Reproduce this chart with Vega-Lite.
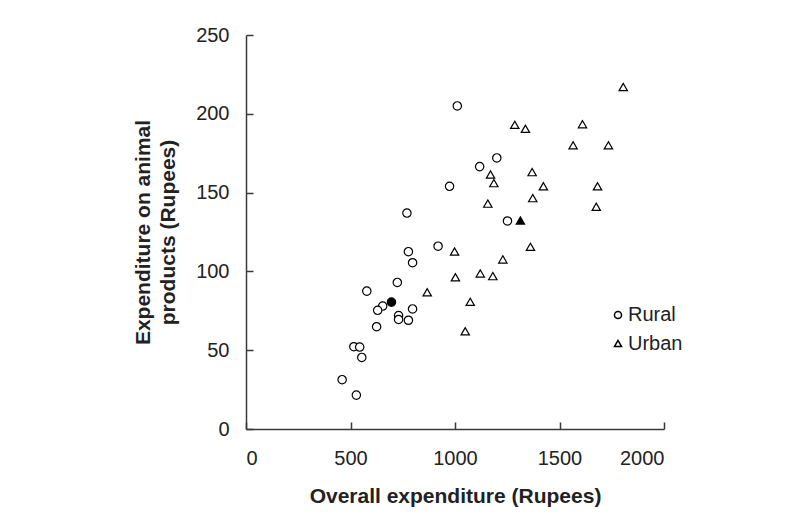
{
  "$schema": "https://vega.github.io/schema/vega-lite/v6.json",
  "autosize": {"type": "none"},
  "padding": {"left": 246, "top": 35, "right": 146, "bottom": 90},
  "width": 418,
  "height": 394,
  "background": "white",
  "config": {
    "view": {"stroke": null},
    "font": "Liberation Sans",
    "axis": {
      "grid": false,
      "domainColor": "#3a3a3a",
      "domainWidth": 1.5,
      "tickColor": "#3a3a3a",
      "tickWidth": 1.5,
      "tickSize": -7,
      "labelFont": "Liberation Sans",
      "labelFontSize": 20,
      "labelColor": "#222222",
      "titleFont": "Liberation Sans",
      "titleFontSize": 21,
      "titleFontWeight": "bold",
      "titleColor": "#222222"
    }
  },
  "data": {
    "values": [
      {"exp": 1011, "animal": 205, "area": "Rural", "mean": false},
      {"exp": 1200, "animal": 172, "area": "Rural", "mean": false},
      {"exp": 1118, "animal": 166.5, "area": "Rural", "mean": false},
      {"exp": 974, "animal": 154, "area": "Rural", "mean": false},
      {"exp": 770, "animal": 137, "area": "Rural", "mean": false},
      {"exp": 1251, "animal": 132, "area": "Rural", "mean": false},
      {"exp": 919, "animal": 116, "area": "Rural", "mean": false},
      {"exp": 777, "animal": 112.5, "area": "Rural", "mean": false},
      {"exp": 797, "animal": 105.5, "area": "Rural", "mean": false},
      {"exp": 724, "animal": 93, "area": "Rural", "mean": false},
      {"exp": 578, "animal": 87.5, "area": "Rural", "mean": false},
      {"exp": 696, "animal": 80.5, "area": "Rural", "mean": true},
      {"exp": 654, "animal": 78, "area": "Rural", "mean": false},
      {"exp": 630, "animal": 75.3, "area": "Rural", "mean": false},
      {"exp": 797, "animal": 76.2, "area": "Rural", "mean": false},
      {"exp": 730, "animal": 72, "area": "Rural", "mean": false},
      {"exp": 730, "animal": 69.5, "area": "Rural", "mean": false},
      {"exp": 777, "animal": 69, "area": "Rural", "mean": false},
      {"exp": 625, "animal": 64.9, "area": "Rural", "mean": false},
      {"exp": 516, "animal": 52.2, "area": "Rural", "mean": false},
      {"exp": 544, "animal": 52, "area": "Rural", "mean": false},
      {"exp": 554, "animal": 45.4, "area": "Rural", "mean": false},
      {"exp": 460, "animal": 31.3, "area": "Rural", "mean": false},
      {"exp": 528, "animal": 21.5, "area": "Rural", "mean": false},
      {"exp": 1805, "animal": 217, "area": "Urban", "mean": false},
      {"exp": 1286, "animal": 193, "area": "Urban", "mean": false},
      {"exp": 1337, "animal": 190.5, "area": "Urban", "mean": false},
      {"exp": 1610, "animal": 193.4, "area": "Urban", "mean": false},
      {"exp": 1565, "animal": 180, "area": "Urban", "mean": false},
      {"exp": 1734, "animal": 180, "area": "Urban", "mean": false},
      {"exp": 1170, "animal": 161.5, "area": "Urban", "mean": false},
      {"exp": 1186, "animal": 156, "area": "Urban", "mean": false},
      {"exp": 1369, "animal": 163, "area": "Urban", "mean": false},
      {"exp": 1423, "animal": 154, "area": "Urban", "mean": false},
      {"exp": 1682, "animal": 154, "area": "Urban", "mean": false},
      {"exp": 1372, "animal": 146.5, "area": "Urban", "mean": false},
      {"exp": 1157, "animal": 143, "area": "Urban", "mean": false},
      {"exp": 1676, "animal": 141, "area": "Urban", "mean": false},
      {"exp": 1313, "animal": 132.3, "area": "Urban", "mean": true},
      {"exp": 1361, "animal": 115.6, "area": "Urban", "mean": false},
      {"exp": 998, "animal": 112.6, "area": "Urban", "mean": false},
      {"exp": 1229, "animal": 107.6, "area": "Urban", "mean": false},
      {"exp": 1121, "animal": 98.7, "area": "Urban", "mean": false},
      {"exp": 1181, "animal": 97, "area": "Urban", "mean": false},
      {"exp": 1002, "animal": 96.3, "area": "Urban", "mean": false},
      {"exp": 1073, "animal": 80.7, "area": "Urban", "mean": false},
      {"exp": 1049, "animal": 62, "area": "Urban", "mean": false},
      {"exp": 867, "animal": 86.8, "area": "Urban", "mean": false}
    ]
  },
  "mark": {"type": "point", "filled": false, "stroke": "black", "strokeWidth": 1.2, "size": 70, "opacity": 1},
  "encoding": {
    "x": {
      "field": "exp", "type": "quantitative",
      "scale": {"domain": [0, 2000], "nice": false},
      "axis": {"values": [0, 500, 1000, 1500, 2000], "format": "d", "labelPadding": 26, "title": "Overall expenditure (Rupees)", "titlePadding": 17}
    },
    "y": {
      "field": "animal", "type": "quantitative",
      "scale": {"domain": [0, 250], "nice": false},
      "axis": {"values": [0, 50, 100, 150, 200, 250], "format": "d", "labelPadding": 24, "title": ["Expenditure on animal", "products (Rupees)"], "titlePadding": 17, "titleLineHeight": 25}
    },
    "shape": {
      "field": "area", "type": "nominal",
      "scale": {"domain": ["Rural", "Urban"], "range": ["circle", "triangle-up"]},
      "legend": {
        "title": null, "orient": "none", "legendX": 362, "legendY": 270, "padding": 0,
        "labelFontSize": 20, "labelColor": "#222222", "labelFont": "Liberation Sans",
        "symbolSize": 50, "rowPadding": 8.5, "labelOffset": 0,
        "encode": {
          "symbols": {
            "update": {
              "stroke": {"value": "black"},
              "fill": {"value": "white"},
              "strokeWidth": {"value": 1.1},
              "opacity": {"value": 1}
            }
          }
        }
      }
    },
    "fill": {
      "condition": {"test": "datum.mean", "value": "black"},
      "value": "white"
    }
  }
}
